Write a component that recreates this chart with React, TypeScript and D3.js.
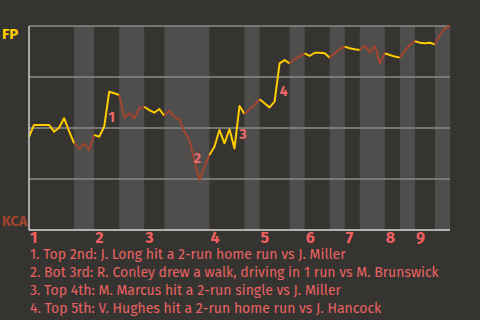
import React from "react";
import * as d3 from "d3";

const teamTop = "FP";
const teamBottom = "KCA";

// win probability for FP (%) after each plate appearance
const winProb = [
  45.7, 51.5, 51.5, 51.5, 51.5, 48.2, 50.1, 54.8, 48.5, 42.5,
  40.0, 42.3, 39.2, 46.6, 45.7, 50.6, 67.8, 67.0, 66.2, 55.0,
  57.2, 54.8, 59.7, 60.4, 58.8, 57.5, 59.3, 56.0, 58.5, 55.5,
  54.3, 48.2, 44.1, 34.3, 24.5, 31.0, 36.8, 40.8, 49.0, 42.5,
  49.4, 40.0, 60.8, 56.9, 59.2, 61.3, 64.1, 62.1, 60.1, 62.9,
  81.7, 83.3, 81.7, 83.7, 85.0, 86.6, 85.3, 86.9, 86.9, 86.6,
  84.5, 86.6, 88.6, 89.9, 89.1, 88.6, 88.2, 90.2, 87.1, 90.3,
  81.7, 86.6, 85.8, 85.0, 84.5, 87.9, 90.7, 92.6, 91.8, 91.5,
  91.8, 91.0, 95.6, 98.9, 100,
];

// plate appearances in each half inning (top 1, bot 1, top 2, ...)
const halfInningLengths = [9, 4, 5, 5, 4, 9, 7, 3, 6, 3, 5, 3, 3, 5, 3, 3, 4, 3];
const inningLabels = ["1", "2", "3", "4", "5", "6", "7", "8", "9"];
const gridValues = [25, 50, 75, 100];

const markerLabels = ["1", "2", "3", "4"];
const markerEvent = [16.5, 33.6, 42.7, 50.8];
const markerWp = [52.9, 32.8, 44.6, 65.7];

const notes = [
  "1. Top 2nd: J. Long hit a 2-run home run vs J. Miller",
  "2. Bot 3rd: R. Conley drew a walk, driving in 1 run vs M. Brunswick",
  "3. Top 4th: M. Marcus hit a 2-run single vs J. Miller",
  "4. Top 5th: V. Hughes hit a 2-run home run vs J. Hancock",
];

const W = 480;
const H = 320;
const X0 = 29;
const X1 = 450;
const Y0 = 26;
const Y1 = 230;
const FONT = "'Fira Sans', Lato, 'Open Sans', sans-serif";
const BG = "#363431";
const BAND = "#4f4e4c";
const YELLOW = "#ffcc00";
const BROWN = "#a3442f";
const RED = "#f25f5f";

export default function App() {
  const total = winProb.length - 1;
  const x = d3.scaleLinear().domain([0, total]).range([X0, X1]);
  const y = d3.scaleLinear().domain([0, 100]).range([Y1, Y0]);

  const starts: number[] = [0];
  halfInningLengths.forEach((n, i) => starts.push(starts[i] + n));

  const line = d3
    .line<number>()
    .x((_, i) => 0)
    .y((d) => y(d));

  const segs = halfInningLengths.map((n, h) => {
    const s = starts[h];
    const e = starts[h + 1];
    const pts = d3.range(s, e + 1).map((k) => [x(k), y(winProb[k])] as [number, number]);
    return { h, d: d3.line()(pts) as string };
  });

  return (
    <div style={{ position: "fixed", left: 0, top: 0, width: W, height: H, background: BG }}>
      <svg width={W} height={H} style={{ display: "block" }} fontFamily={FONT}>
        <rect x={0} y={0} width={W} height={H} fill={BG} />
        {halfInningLengths.map((n, h) =>
          h % 2 === 1 ? (
            <rect
              key={"b" + h}
              x={x(starts[h])}
              y={Y0}
              width={x(starts[h + 1]) - x(starts[h])}
              height={Y1 - Y0}
              fill={BAND}
            />
          ) : null
        )}
        {gridValues.map((g) => (
          <line key={"g" + g} x1={X0} x2={X1} y1={y(g)} y2={y(g)} stroke="#8c8b88" strokeWidth={1.5} />
        ))}
        {segs.map((s) => (
          <path
            key={"s" + s.h}
            d={s.d}
            fill="none"
            stroke={s.h % 2 === 0 ? YELLOW : BROWN}
            strokeWidth={2}
            strokeLinejoin="round"
          />
        ))}
        <line x1={X0} x2={X0} y1={Y0} y2={Y1} stroke="#cfcfcf" strokeWidth={1.5} />
        <line x1={X0} x2={X1} y1={Y1} y2={Y1} stroke="#d8d8d8" strokeWidth={1.5} />
        <text x={2} y={39} fill={YELLOW} fontWeight="bold" fontSize={15}>
          {teamTop}
        </text>
        <text x={2} y={226} fill={BROWN} fontWeight="bold" fontSize={14}>
          {teamBottom}
        </text>
        {inningLabels.map((lab, i) => (
          <text key={"i" + i} x={x(starts[i * 2]) + 1} y={243} fill={RED} fontWeight="bold" fontSize={16}>
            {lab}
          </text>
        ))}
        {markerLabels.map((lab, i) => (
          <text
            key={"m" + i}
            x={x(markerEvent[i])}
            y={y(markerWp[i])}
            fill="#f06a6a"
            fontWeight="bold"
            fontSize={14}
            textAnchor="middle"
          >
            {lab}
          </text>
        ))}
        {notes.map((t, i) => (
          <text key={"n" + i} x={30} y={259 + i * 18} fill="#ea6262" fontSize={14}>
            {t}
          </text>
        ))}
      </svg>
    </div>
  );
}
